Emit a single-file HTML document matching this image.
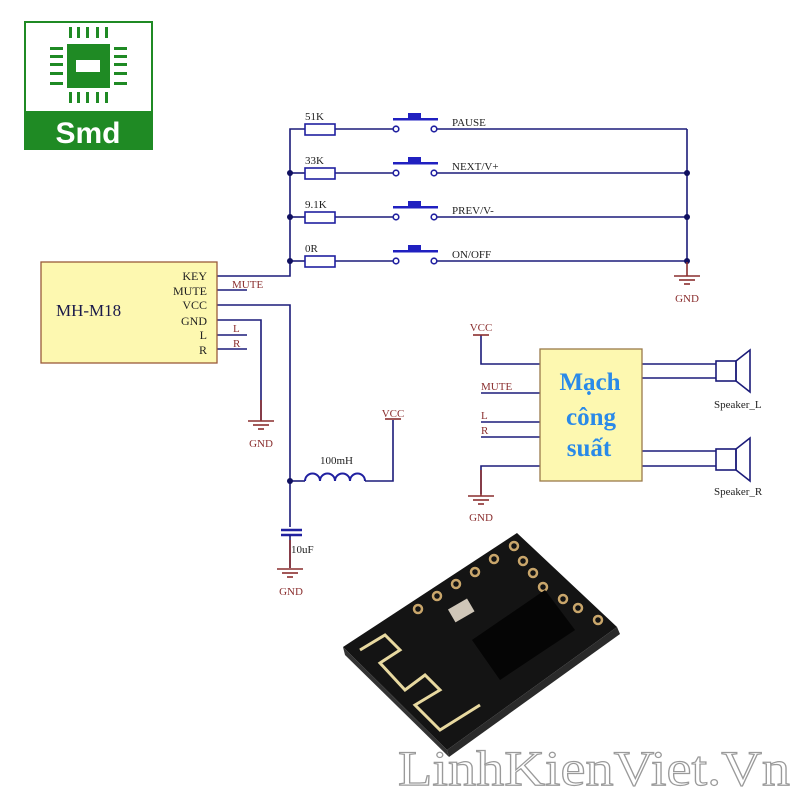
<!DOCTYPE html>
<html><head><meta charset="utf-8"><style>html,body{margin:0;padding:0;background:#fff}svg{display:block}</style></head>
<body>
<svg width="800" height="800" viewBox="0 0 800 800" xmlns="http://www.w3.org/2000/svg" font-family="'Liberation Serif', serif">
<!-- Logo -->
<rect x="25" y="22" width="127" height="127" fill="#fff" stroke="#1f8a24" stroke-width="2"/>
<rect x="25" y="111" width="127" height="38" fill="#1f8a24"/>
<text x="88" y="143" font-family="'Liberation Sans',sans-serif" font-weight="bold" font-size="30" fill="#fff" text-anchor="middle">Smd</text>
<g fill="#1f8a24">
<rect x="67" y="44" width="43" height="44"/>
<rect x="69" y="27" width="3" height="11"/><rect x="77" y="27" width="3" height="11"/><rect x="86" y="27" width="3" height="11"/><rect x="96" y="27" width="3" height="11"/><rect x="105" y="27" width="3" height="11"/>
<rect x="69" y="92" width="3" height="11"/><rect x="77" y="92" width="3" height="11"/><rect x="86" y="92" width="3" height="11"/><rect x="96" y="92" width="3" height="11"/><rect x="105" y="92" width="3" height="11"/>
<rect x="50" y="47" width="13" height="3"/><rect x="50" y="55" width="13" height="3"/><rect x="50" y="63" width="13" height="3"/><rect x="50" y="72" width="13" height="3"/><rect x="50" y="82" width="13" height="3"/>
<rect x="114" y="47" width="13" height="3"/><rect x="114" y="55" width="13" height="3"/><rect x="114" y="63" width="13" height="3"/><rect x="114" y="72" width="13" height="3"/><rect x="114" y="82" width="13" height="3"/>
</g>
<rect x="76" y="60" width="24" height="12" fill="#fff"/>

<g stroke="#1c1c7a" stroke-width="1.6" fill="none">
<!-- left bus -->
<polyline points="217,276 290,276 290,129 305,129"/>
<line x1="290" y1="173" x2="305" y2="173"/>
<line x1="290" y1="217" x2="305" y2="217"/>
<line x1="290" y1="261" x2="305" y2="261"/>
<!-- rows -->
<g id="rows">
<line x1="335" y1="129" x2="393" y2="129"/><line x1="437" y1="129" x2="687" y2="129"/>
<line x1="335" y1="173" x2="393" y2="173"/><line x1="437" y1="173" x2="687" y2="173"/>
<line x1="335" y1="217" x2="393" y2="217"/><line x1="437" y1="217" x2="687" y2="217"/>
<line x1="335" y1="261" x2="393" y2="261"/><line x1="437" y1="261" x2="687" y2="261"/>
</g>
<line x1="687" y1="129" x2="687" y2="262"/>
<!-- MH-M18 wires -->
<polyline points="217,305 290,305 290,527"/>
<line x1="217" y1="290" x2="247" y2="290"/>
<polyline points="217,320 261,320 261,420"/>
<line x1="217" y1="335" x2="247" y2="335"/>
<line x1="217" y1="349" x2="247" y2="349"/>
<!-- inductor -->
<line x1="290" y1="481" x2="305" y2="481"/>
<path d="M305,481 a7.5,7.5 0 0 1 15,0 a7.5,7.5 0 0 1 15,0 a7.5,7.5 0 0 1 15,0 a7.5,7.5 0 0 1 15,0" stroke="#2020a0" stroke-width="2"/>
<polyline points="365,481 393,481 393,420"/>
<!-- cap -->
<line x1="281" y1="530" x2="302" y2="530" stroke-width="2.5" stroke="#2020a0"/>
<line x1="281" y1="535" x2="302" y2="535" stroke-width="2.5" stroke="#2020a0"/>
<line x1="290" y1="535" x2="290" y2="568"/>
<!-- amp wires -->
<polyline points="481,335 481,364 540,364"/>
<line x1="481" y1="393" x2="540" y2="393"/>
<line x1="481" y1="422" x2="540" y2="422"/>
<line x1="481" y1="437" x2="540" y2="437"/>
<polyline points="540,466 481,466 481,494"/>
<line x1="642" y1="364" x2="716" y2="364"/><line x1="642" y1="378" x2="716" y2="378"/>
<line x1="642" y1="451" x2="716" y2="451"/><line x1="642" y1="466" x2="716" y2="466"/>
<!-- speakers -->
<rect x="716" y="361" width="20" height="20" stroke="#1c1c7a"/>
<polygon points="736,361 750,350 750,392 736,381"/>
<rect x="716" y="449" width="20" height="21"/>
<polygon points="736,449 750,438 750,481 736,470"/>
</g>
<!-- resistors & switches -->
<g stroke="#2020a0" stroke-width="1.6" fill="#fff">
<rect x="305" y="124" width="30" height="11"/><rect x="305" y="168" width="30" height="11"/>
<rect x="305" y="212" width="30" height="11"/><rect x="305" y="256" width="30" height="11"/>
<circle cx="396" cy="129" r="2.8"/><circle cx="434" cy="129" r="2.8"/>
<circle cx="396" cy="173" r="2.8"/><circle cx="434" cy="173" r="2.8"/>
<circle cx="396" cy="217" r="2.8"/><circle cx="434" cy="217" r="2.8"/>
<circle cx="396" cy="261" r="2.8"/><circle cx="434" cy="261" r="2.8"/>
</g>
<g fill="#2020c0">
<rect x="393" y="118" width="45" height="2.5"/><rect x="408" y="113" width="13" height="6"/>
<rect x="393" y="162" width="45" height="2.5"/><rect x="408" y="157" width="13" height="6"/>
<rect x="393" y="206" width="45" height="2.5"/><rect x="408" y="201" width="13" height="6"/>
<rect x="393" y="250" width="45" height="2.5"/><rect x="408" y="245" width="13" height="6"/>
</g>
<g fill="#101060">
<circle cx="290" cy="173" r="3"/><circle cx="290" cy="217" r="3"/><circle cx="290" cy="261" r="3"/>
<circle cx="687" cy="173" r="3"/><circle cx="687" cy="217" r="3"/><circle cx="687" cy="261" r="3"/>
<circle cx="290" cy="481" r="3"/>
</g>
<!-- grounds / vcc (brown) -->
<g stroke="#8a2e2e" stroke-width="1.6" fill="none">
<line x1="687" y1="262" x2="687" y2="276"/>
<line x1="674" y1="276" x2="700" y2="276"/><line x1="679" y1="280" x2="695" y2="280"/><line x1="684" y1="284" x2="690" y2="284"/>
<line x1="248" y1="421" x2="274" y2="421"/><line x1="253" y1="425" x2="269" y2="425"/><line x1="258" y1="429" x2="264" y2="429"/>
<line x1="277" y1="569" x2="303" y2="569"/><line x1="282" y1="573" x2="298" y2="573"/><line x1="287" y1="577" x2="293" y2="577"/>
<line x1="468" y1="496" x2="494" y2="496"/><line x1="473" y1="500" x2="489" y2="500"/><line x1="478" y1="504" x2="484" y2="504"/>
<line x1="385" y1="419" x2="401" y2="419"/><line x1="473" y1="335" x2="489" y2="335"/>
<line x1="290" y1="540" x2="290" y2="568"/><line x1="481" y1="470" x2="481" y2="496"/><line x1="261" y1="400" x2="261" y2="421"/>
</g>
<!-- MH-M18 box -->
<rect x="41" y="262" width="176" height="101" fill="#fdf8b0" stroke="#9a5a3a" stroke-width="1.3"/>
<text x="56" y="316" font-size="17" fill="#1a1a4a">MH-M18</text>
<g font-size="12" fill="#222" text-anchor="end">
<text x="207" y="280">KEY</text><text x="207" y="295">MUTE</text><text x="207" y="309">VCC</text>
<text x="207" y="325">GND</text><text x="207" y="339">L</text><text x="207" y="354">R</text>
</g>
<!-- Amp box -->
<rect x="540" y="349" width="102" height="132" fill="#fdf8b0" stroke="#9a7a4a" stroke-width="1.3"/>
<g font-size="25" font-weight="bold" fill="#2a8ae8" text-anchor="middle">
<text x="590" y="390">Mạch</text><text x="591" y="425">công</text><text x="589" y="456">suất</text>
</g>
<!-- labels -->
<g font-size="11" fill="#222">
<text x="305" y="120">51K</text><text x="305" y="164">33K</text><text x="305" y="208">9.1K</text><text x="305" y="252">0R</text>
<text x="452" y="126">PAUSE</text><text x="452" y="170">NEXT/V+</text><text x="452" y="214">PREV/V-</text><text x="452" y="258">ON/OFF</text>
<text x="320" y="464">100mH</text><text x="291" y="553">10uF</text>
<text x="714" y="408">Speaker_L</text><text x="714" y="495">Speaker_R</text>
</g>
<g font-size="11" fill="#8a2e2e">
<text x="232" y="288">MUTE</text><text x="233" y="332">L</text><text x="233" y="347">R</text>
<text x="687" y="302" text-anchor="middle">GND</text><text x="261" y="447" text-anchor="middle">GND</text>
<text x="291" y="595" text-anchor="middle">GND</text><text x="481" y="521" text-anchor="middle">GND</text>
<text x="393" y="417" text-anchor="middle">VCC</text><text x="481" y="331" text-anchor="middle">VCC</text>
<text x="481" y="390">MUTE</text><text x="481" y="419">L</text><text x="481" y="434">R</text>
</g>
<!-- PCB -->
<polygon points="343,647 517,533 617,627 447,750" fill="#141414"/>
<polygon points="343,647 345,655 449,757 447,750" fill="#333"/>
<polygon points="447,750 449,757 620,634 617,627" fill="#2a2a2a"/>
<g stroke="#e8d9a0" stroke-width="3" fill="none">
<polyline points="360,650 385,635 400,650 380,663 405,690 425,675 440,690 415,705 440,730 480,705"/>
</g>
<g fill="none" stroke="#c9a66b" stroke-width="2.5">
<circle cx="418" cy="609" r="4"/><circle cx="437" cy="596" r="4"/><circle cx="456" cy="584" r="4"/><circle cx="475" cy="572" r="4"/><circle cx="494" cy="559" r="4"/><circle cx="514" cy="546" r="4"/>
<circle cx="523" cy="561" r="4"/><circle cx="533" cy="573" r="4"/><circle cx="543" cy="587" r="4"/><circle cx="563" cy="599" r="4"/><circle cx="578" cy="608" r="4"/><circle cx="598" cy="620" r="4"/>
</g>
<polygon points="472,640 545,590 575,630 500,680" fill="#050505"/>
<rect x="450" y="603" width="22" height="15" fill="#cfc6b8" transform="rotate(-30 461 610)"/>
<!-- watermark -->
<text x="398" y="785" font-size="50" fill="#fff" stroke="#9a9a9a" stroke-width="1.2" textLength="392" lengthAdjust="spacingAndGlyphs">LinhKienViet.Vn</text>
</svg>
</body></html>
